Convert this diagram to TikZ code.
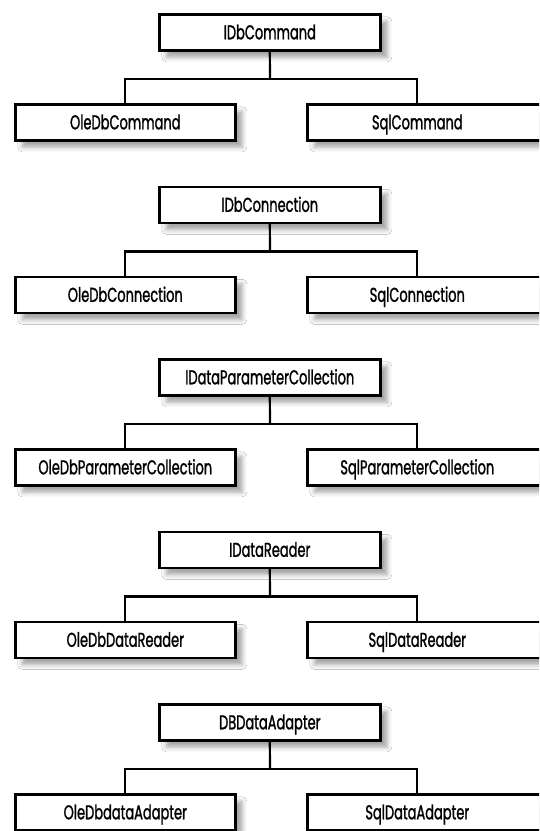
\documentclass[tikz,border=0pt]{standalone}
\usepackage{fontspec}
\setmainfont[FakeStretch=0.65, FakeBold=1.2]{Poppins}
\usetikzlibrary{shadows.blur}
\begin{document}
\begin{tikzpicture}[x=1pt,y=-1pt,
  boxshadow/.style={blur shadow={shadow xshift=7pt, shadow yshift=-7pt, shadow blur radius=4.5pt, shadow opacity=35}},
  cls/.style={draw=black, line width=2.6pt, fill=white, boxshadow, minimum height=36pt,
    text height=14pt, text depth=0pt,
    inner sep=0pt, outer sep=0pt, anchor=north west, font=\fontsize{20}{20}\selectfont},
  link/.style={line width=2.2pt}]
\clip (0,0) rectangle (539,831);
\fill[white] (0,0) rectangle (539,831);
\foreach \yy/\t/\l/\r [count=\i] in {
  13/IDbCommand/OleDbCommand/SqlCommand,
  185.5/IDbConnection/OleDbConnection/SqlConnection,
  358/IDataParameterCollection/OleDbParameterCollection/SqlParameterCollection,
  530.5/IDataReader/OleDbDataReader/SqlDataReader,
  703/DBDataAdapter/OleDbdataAdapter/SqlDataAdapter}{
  \node[cls, minimum width=221pt] (top\i) at (159.3,\yy+1.3) {\t};
  \node[cls, minimum width=220pt] (left\i) at (15.3,\yy+91.3) {\l};
  \node[cls] (right\i) at (307.3,\yy+91.3) {\makebox[220pt]{\r}\makebox[90pt]{}};
  \coordinate (j\i) at (270,\yy+66);
  \draw[link] (top\i.south) -- (j\i);
  \draw[link] (j\i) -| (left\i.north);
  \draw[link] (j\i) -| ([xshift=110pt]right\i.north west);
}
\end{tikzpicture}
\end{document}
